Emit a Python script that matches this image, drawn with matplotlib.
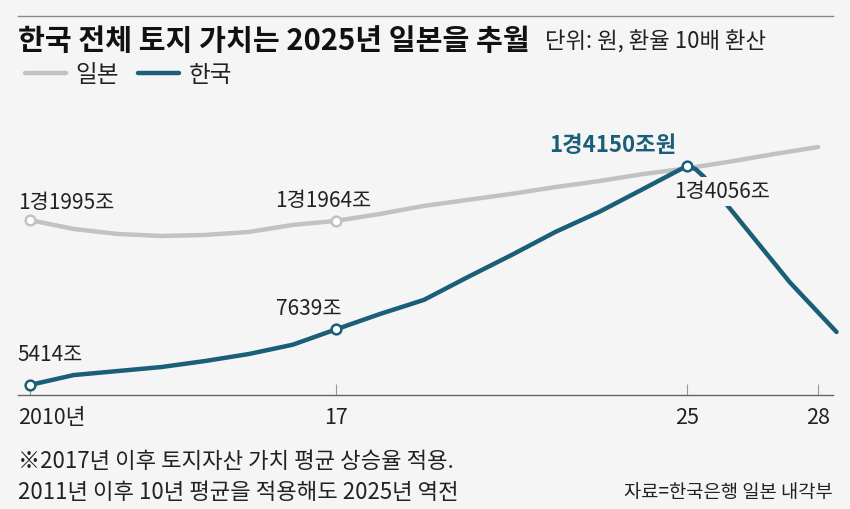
import matplotlib.pyplot as plt
from matplotlib.lines import Line2D

plt.rcParams['font.family'] = ['Noto Sans CJK KR', 'DejaVu Sans']

# Japan, yearly 2010-2028 (조 won)
japan_years = list(range(2010, 2029))
japan = [11995, 11640, 11440, 11360, 11400, 11520, 11800, 11964, 12240, 12560,
         12800, 13040, 13310, 13550, 13830, 14056, 14330, 14630, 14910]

# Korea, yearly to 2025, then the drawn tail after 2025
korea_years = list(range(2010, 2026)) + [2025.2, 2025.4, 2025.9, 2027.35, 2028.42]
korea = [5414, 5810, 5970, 6130, 6370, 6650, 7020, 7639, 8250, 8810,
         9720, 10600, 11520, 12320, 13230, 14150, 14030, 13710, 12640, 9520, 7530]

japan_marked = [0, 7]
korea_marked = [0, 7, 15]

tick_years = [2010, 2017, 2025, 2028]
tick_labels = ['2010년', '17', '25', '28']

bg = '#f5f5f5'
gray = '#c2c2c2'
teal = '#1b5e78'

fig = plt.figure(figsize=(8.5, 5.1), dpi=100, facecolor=bg)
ax = fig.add_axes([18/850, 1 - 396/510, (833 - 18)/850, (396 - 120)/510])
ax.set_facecolor(bg)

jp_line, = ax.plot(japan_years, japan, color=gray, lw=3.2, zorder=2,
                   solid_capstyle='round', label='일본')
kr_line, = ax.plot(korea_years, korea, color=teal, lw=3.2, zorder=3,
                   solid_capstyle='round', clip_on=False, label='한국')

ax.plot([japan_years[i] for i in japan_marked], [japan[i] for i in japan_marked],
        'o', ms=7, mfc='white', mec=gray, mew=1.8, zorder=4, clip_on=False)
ax.plot([korea_years[i] for i in korea_marked], [korea[i] for i in korea_marked],
        'o', ms=7, mfc='white', mec=teal, mew=1.8, zorder=5, clip_on=False)

ax.set_xlim(2009.73, 2028.34)
ax.set_ylim(5015, 16027)

for s in ['top', 'left', 'right']:
    ax.spines[s].set_visible(False)
ax.spines['bottom'].set_color('#666666')
ax.spines['bottom'].set_linewidth(1)
ax.set_yticks([])
ax.set_xticks(tick_years)
ax.set_xticklabels([''] + tick_labels[1:])
ax.tick_params(axis='x', direction='in', length=8, width=0.8, color='#999999',
               pad=8, labelsize=15.5, labelcolor='#222222')
ax.annotate(tick_labels[0], (tick_years[0], 0), xycoords=('data', 'axes fraction'),
            xytext=(-12, -22), textcoords='offset pixels', ha='left', va='center',
            fontsize=15.5, color='#222222')

# value labels
lab = dict(fontsize=15, color='#222222', va='center')
ax.annotate('1경1995조', (2010, japan[0]), xytext=(-12, 18), textcoords='offset pixels', ha='left', **lab)
ax.annotate('1경1964조', (2017, japan[7]), xytext=(-13, 21), textcoords='offset pixels', ha='center', **lab)
ax.annotate('5414조', (2010, korea[0]), xytext=(-12, 31), textcoords='offset pixels', ha='left', **lab)
ax.annotate('7639조', (2017, korea[7]), xytext=(-28, 21), textcoords='offset pixels', ha='center', **lab)
ax.annotate('1경4150조원', (2025, korea[15]), xytext=(-74, 22), textcoords='offset pixels',
            ha='center', va='center', fontsize=16, fontweight='bold', color=teal)
ax.annotate('1경4056조', (2025, japan[15]), xytext=(35, -23), textcoords='offset pixels', ha='center',
            zorder=6, bbox=dict(boxstyle='square,pad=0.15', fc=bg, ec='none'), **lab)

fig.legend(handles=[jp_line, kr_line], loc='center left', bbox_to_anchor=(25/850, 1 - 76/510),
           frameon=False, ncol=2, fontsize=17, handlelength=1.75, handletextpad=0.4,
           columnspacing=0.8, borderpad=0, borderaxespad=0, labelcolor='#222222')

fig.add_artist(Line2D([18/850, 833/850], [1 - 17/510] * 2, color='#888888', lw=1))
fig.text(18/850, 1 - 41/510, '한국 전체 토지 가치는 2025년 일본을 추월', fontsize=21,
         fontweight='bold', color='#111111', va='center')
fig.text(545/850, 1 - 42/510, '단위: 원, 환율 10배 환산', fontsize=16, color='#222222', va='center')

fig.text(18/850, 1 - 462/510, '※2017년 이후 토지자산 가치 평균 상승율 적용.', fontsize=16,
         color='#222222', va='center')
fig.text(18/850, 1 - 493/510, '2011년 이후 10년 평균을 적용해도 2025년 역전', fontsize=16,
         color='#222222', va='center')
fig.text(833/850, 1 - 493/510, '자료=한국은행 일본 내각부', fontsize=13.5,
         color='#222222', va='center', ha='right')

fig.savefig('out.png', dpi=100, facecolor=bg)
